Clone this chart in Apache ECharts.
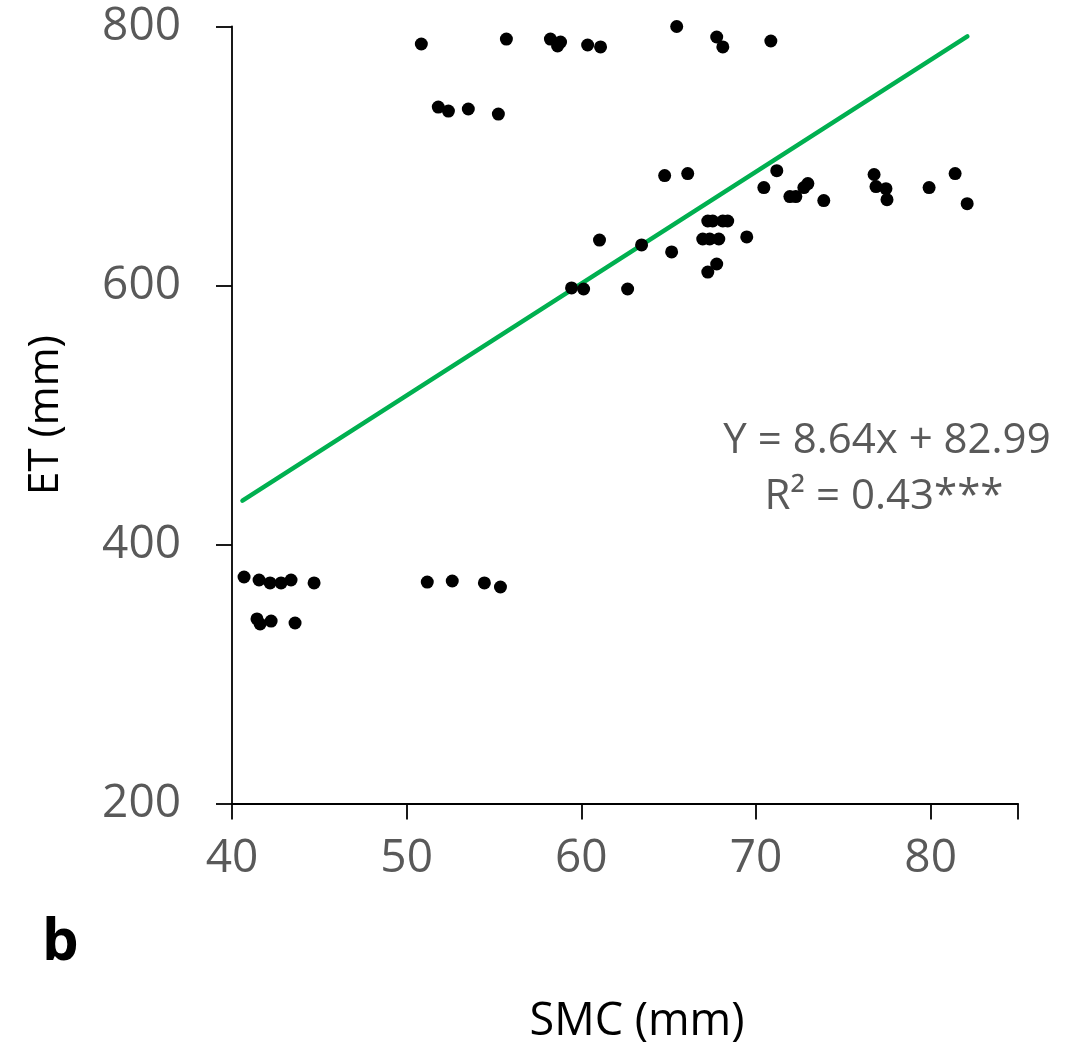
<!DOCTYPE html>
<html>
<head>
<meta charset="utf-8">
<script src="https://cdn.jsdelivr.net/npm/echarts@6/dist/echarts.min.js"></script>
<style>
html,body{margin:0;padding:0;background:#fff;}
#chart{width:1081px;height:1042px;}
</style>
</head>
<body>
<div id="chart"></div>
<script>
// SMC (mm) values
var smc = [
  50.84, 55.71, 58.23, 58.81, 58.64, 60.36, 61.10, 65.46, 67.75, 68.10, 70.85,
  51.81, 52.39, 53.53, 55.25,
  61.04, 64.77, 66.09, 71.19, 70.45, 71.94, 72.28, 72.74, 72.97, 73.88,
  76.76, 76.87, 77.44, 77.50, 79.91, 81.40, 82.09,
  67.24, 67.52, 68.10, 68.38, 66.95, 67.35, 67.87, 69.47,
  63.45, 65.17, 67.75, 67.24, 62.65, 59.44, 60.13,
  40.69, 41.55, 42.18, 42.81, 43.38, 44.70, 51.18, 52.61, 54.45, 55.37,
  41.43, 41.61, 42.24, 43.61
];
// ET (mm) values
var et = [
  786.5, 790.3, 790.3, 788.0, 785.0, 785.7, 784.2, 800.0, 791.9, 784.2, 788.8,
  737.8, 734.7, 736.3, 732.4,
  635.1, 684.9, 686.4, 688.7, 675.6, 668.7, 668.7, 675.6, 678.7, 665.6,
  685.7, 676.4, 674.8, 666.3, 675.6, 686.4, 663.2,
  649.8, 649.8, 649.8, 649.8, 635.9, 635.9, 635.9, 637.5,
  631.3, 625.9, 616.6, 610.4, 597.3, 598.1, 597.3,
  374.9, 372.6, 370.3, 370.3, 372.6, 370.3, 371.0, 371.8, 370.3, 367.2,
  342.5, 338.6, 340.9, 339.4
];
// fitted line endpoints (Y = 8.64x + 82.99)
var fitX = [40.6, 82.1];
var fitY = [433.8, 792.3];
var xTicks = [40, 50, 60, 70, 80];
var yTicks = [200, 400, 600, 800];
var eqLine1 = 'Y = 8.64x + 82.99';
var eqLine2 = 'R\u00B2 = 0.43***';

var pts = smc.map(function (v, i) { return [v, et[i]]; });
var fit = fitX.map(function (v, i) { return [v, fitY[i]]; });

var FONT = '"Open Sans", "Noto Sans", sans-serif';
var chart = echarts.init(document.getElementById('chart'), null, {renderer: 'canvas'});
chart.setOption({
  backgroundColor: '#ffffff',
  animation: false,
  grid: {left: 232, top: 26.5, width: 786, height: 777, containLabel: false, outerBoundsMode: 'none'},
  xAxis: {
    type: 'value', min: 40, max: 85, interval: 10,
    splitLine: {show: false},
    axisLine: {lineStyle: {color: '#000', width: 1.8}},
    axisTick: {length: 16, lineStyle: {color: '#000', width: 1.8}},
    axisLabel: {
      color: '#595959', fontSize: 46, fontFamily: FONT, margin: 32,
      formatter: function (v) { return xTicks.indexOf(v) >= 0 ? String(v) : ''; }
    },
    name: 'SMC (mm)', nameLocation: 'middle', nameGap: 196,
    nameTextStyle: {color: '#000', fontSize: 45, fontFamily: FONT, padding: [0, 0, 0, 24]}
  },
  yAxis: {
    type: 'value', min: 200, max: 800, interval: 200,
    splitLine: {show: false},
    axisLine: {lineStyle: {color: '#000', width: 1.8}},
    axisTick: {length: 16, lineStyle: {color: '#000', width: 1.8}},
    axisLabel: {
      color: '#595959', fontSize: 46, fontFamily: FONT, margin: 51,
      formatter: function (v) { return yTicks.indexOf(v) >= 0 ? String(v) : ''; }
    },
    name: 'ET (mm)', nameLocation: 'middle', nameGap: 165,
    nameTextStyle: {color: '#000', fontSize: 42, fontFamily: FONT}
  },
  series: [
    {
      type: 'scatter', data: pts, symbolSize: 13,
      itemStyle: {color: '#000', opacity: 1}, z: 3
    },
    {
      type: 'line', data: fit, showSymbol: false, symbol: 'none',
      lineStyle: {color: '#00B050', width: 4.5, cap: 'round'}, z: 2
    }
  ],
  graphic: [
    {type: 'text', left: 42, top: 914,
     style: {text: 'b', fontSize: 58, fontWeight: 'bold', fontFamily: FONT, fill: '#000'}},
    {type: 'text', x: 887, y: 441,
     style: {text: eqLine1, fontSize: 42, fontFamily: FONT, fill: '#595959', align: 'center', verticalAlign: 'middle'}},
    {type: 'text', x: 884, y: 497,
     style: {text: eqLine2, fontSize: 42, fontFamily: FONT, fill: '#595959', align: 'center', verticalAlign: 'middle'}}
  ]
});
</script>
</body>
</html>
